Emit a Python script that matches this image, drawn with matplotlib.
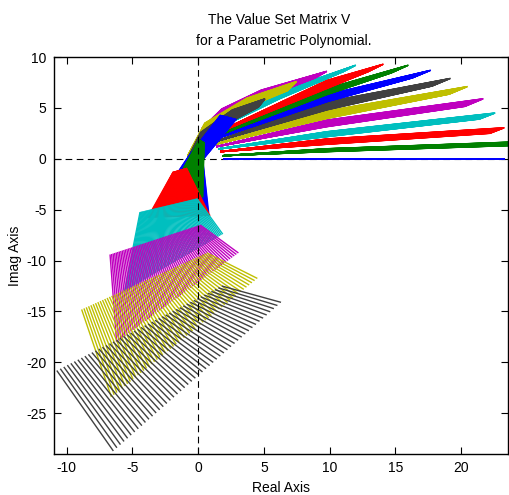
import matplotlib
matplotlib.use("Agg")
import matplotlib.pyplot as plt
from matplotlib.collections import LineCollection
import numpy as np

# MATLAB colour order used for the value sets (b, g, r, c, m, y, k)
set_colors = ['#0000ff', '#008000', '#ff0000', '#00bfbf', '#bf00bf', '#bfbf00', '#404040']

# Each value set is described by "rails": ((x,y) at u=0, (x,y) at u=1).
# Every stroke of the set runs through all rails at the same u.
vs00 = [((1.87, 0.00), (1.87, 0.00)), ((23.35, 0.00), (23.35, 0.00))]
vs01 = [((1.87, 0.30), (1.87, 0.30)), ((9.78, 0.70), (9.78, 0.99)), ((23.8, 1.30), (24.6, 1.68))]
vs02 = [((1.67, 0.70), (1.67, 0.70)), ((9.78, 1.42), (9.78, 1.95)), ((22.2, 2.50), (23.3, 3.05))]
vs03 = [((1.54, 0.97), (1.54, 0.97)), ((9.78, 2.17), (9.78, 2.66)), ((21.4, 3.90), (22.6, 4.50))]
vs04 = [((1.41, 1.20), (1.41, 1.20)), ((9.78, 3.15), (9.78, 3.80)), ((20.3, 5.15), (21.7, 5.90))]
vs05 = [((1.28, 1.42), (1.28, 1.42)), ((9.78, 3.96), (9.78, 4.70)), ((19.1, 6.35), (20.5, 7.10))]
vs06 = [((1.15, 1.62), (1.15, 1.62)), ((9.78, 4.80), (9.78, 5.60)), ((17.8, 7.15), (19.2, 7.90))]
vs07 = [((1.00, 1.82), (1.00, 1.82)), ((9.78, 5.60), (9.78, 6.30)), ((16.3, 7.95), (17.7, 8.70))]
vs08 = [((0.90, 2.00), (0.90, 2.00)), ((9.78, 6.30), (9.78, 6.90)), ((14.7, 8.45), (16.0, 9.20))]
vs09 = [((0.80, 2.20), (0.80, 2.20)), ((9.78, 6.90), (9.78, 7.70)), ((12.9, 8.55), (14.1, 9.30))]
vs10 = [((0.60, 2.40), (0.60, 2.40)), ((6.2, 5.90), (6.2, 6.60)), ((11.0, 8.55), (12.0, 9.20))]
vs11 = [((0.40, 2.60), (0.30, 3.00)), ((2.0, 4.20), (1.8, 4.90)), ((5.0, 6.00), (4.8, 6.75)), ((8.9, 7.95), (9.8, 8.60))]
vs12 = [((-0.7, -0.1), (-0.8, 0.3)), ((1.5, 3.0), (0.5, 3.5)), ((4.0, 5.2), (3.7, 5.95)), ((6.8, 6.7), (7.5, 7.6))]
vs13 = [((-1.4, -1.5), (-1.2, -1.0)), ((0.9, 1.7), (0.2, 2.6)), ((3.0, 4.0), (2.6, 4.8)), ((4.6, 5.1), (5.1, 5.9))]
vs14 = [((-3.2, -4.5), (0.8, -5.3)), ((-0.7, 0.3), (0.35, -0.1)), ((1.7, 4.3), (2.9, 3.9))]
vs15 = [((0.1, 1.9), (0.45, 1.6)), ((-1.5, -1.8), (0.35, -3.8))]
vs16 = [((-1.9, -1.3), (-0.9, -0.9)), ((-3.85, -5.8), (0.9, -5.6))]
vs17 = [((-4.42, -5.23), (-0.10, -3.90)), ((-5.6, -13.0), (1.87, -7.40))]
vs18 = [((-6.70, -9.40), (0.15, -6.50)), ((-6.2, -18.0), (3.06, -9.25))]
vs19 = [((-8.86, -14.80), (0.65, -9.25)), ((-6.6, -23.4), (4.50, -11.75))]
vs20 = [((-10.75, -20.80), (1.80, -12.50)), ((-6.45, -28.7), (6.30, -14.10))]

value_sets = [vs00, vs01, vs02, vs03, vs04, vs05, vs06, vs07, vs08, vs09, vs10,
              vs11, vs12, vs13, vs14, vs15, vs16, vs17, vs18, vs19, vs20]
strokes_per_set = [2, 70, 70, 70, 70, 70, 70, 70, 70, 70, 70,
                   80, 90, 90, 90, 70, 80, 70, 60, 55, 48]

x_ticks = [-10, -5, 0, 5, 10, 15, 20]
y_ticks = [-25, -20, -15, -10, -5, 0, 5, 10]
x_limits = (-11.0, 23.6)
y_limits = (-29.0, 10.0)

plt.rcParams['font.family'] = ['Liberation Sans', 'DejaVu Sans']
plt.rcParams['axes.unicode_minus'] = False

fig = plt.figure(figsize=(5.09, 4.95), dpi=100)
ax = fig.add_axes([53.5 / 509, 1 - 454 / 495, (508.5 - 53.5) / 509, (454 - 57) / 495])

# horizontal zero line (under the sets)
ax.plot(x_limits, [0, 0], color='black', lw=0.8, ls=(0, (6, 4)), zorder=1)

for k, (rails, n) in enumerate(zip(value_sets, strokes_per_set)):
    segs = []
    for u in np.linspace(0.0, 1.0, n):
        pts = [(p0[0] + u * (p1[0] - p0[0]), p0[1] + u * (p1[1] - p0[1])) for p0, p1 in rails]
        segs.append(pts)
    lc = LineCollection(segs, colors=set_colors[k % len(set_colors)],
                        linewidths=1.3 if k == 0 else 1.0, zorder=2 + k * 0.01)
    ax.add_collection(lc)

# vertical zero line (on top)
ax.plot([0, 0], y_limits, color='black', lw=0.8, ls=(0, (6, 4)), zorder=5)

ax.set_xlim(*x_limits)
ax.set_ylim(*y_limits)
ax.set_xticks(x_ticks)
ax.set_yticks(y_ticks)
ax.tick_params(direction='in', top=True, right=True, length=5, width=0.8, labelsize=10, pad=5)
for s in ax.spines.values():
    s.set_linewidth(1.0)

ax.set_xlabel('Real Axis', fontsize=10, labelpad=4)
ax.set_ylabel('Imag Axis', fontsize=10, labelpad=3)
fig.text(279 / 509, 1 - 20 / 495, 'The Value Set Matrix V', ha='center', va='center', fontsize=10)
fig.text(284 / 509, 1 - 41 / 495, 'for a Parametric Polynomial.', ha='center', va='center', fontsize=10)

fig.savefig('out.png', dpi=100)
